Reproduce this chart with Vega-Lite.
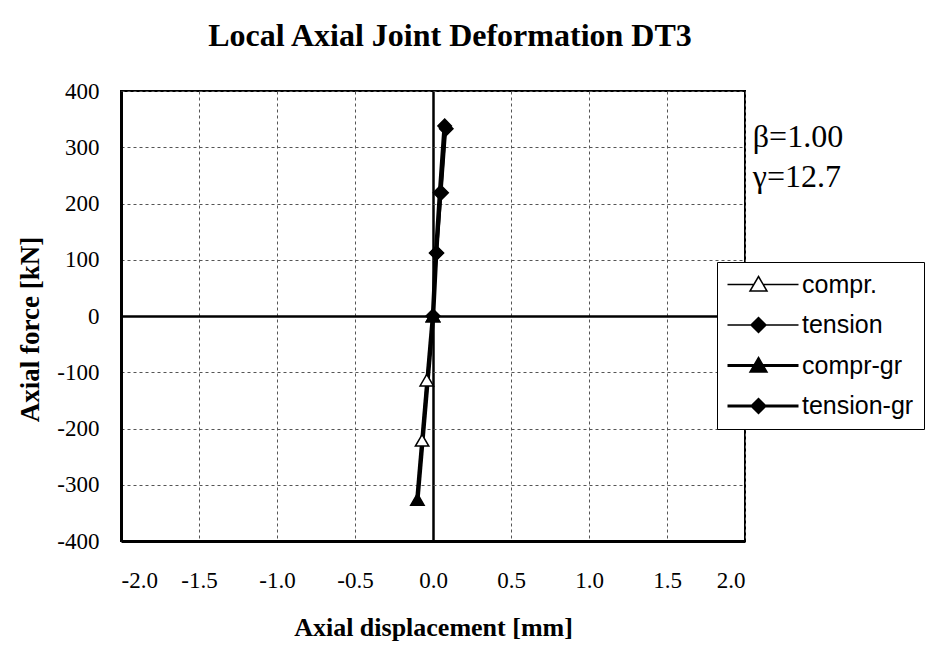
{
  "$schema": "https://vega.github.io/schema/vega-lite/v6.json",
  "width": 624,
  "height": 450,
  "autosize": "none",
  "padding": {"left": 121, "top": 91, "right": 180, "bottom": 107},
  "background": "white",
  "title": {
    "text": "Local Axial Joint Deformation DT3",
    "font": "Liberation Serif",
    "fontSize": 32,
    "fontWeight": "bold",
    "color": "black",
    "anchor": "middle",
    "dx": 17,
    "offset": 27
  },
  "config": {
    "view": {"stroke": "black", "strokeWidth": 2},
    "axis": {
      "labelFont": "Liberation Serif",
      "labelFontSize": 23,
      "labelColor": "black",
      "titleFont": "Liberation Serif",
      "titleFontWeight": "bold",
      "titleColor": "black",
      "ticks": false,
      "domainColor": "black",
      "domainWidth": 3,
      "grid": true
    },
    "legend": {
      "title": null,
      "orient": "none",
      "legendX": 596,
      "legendY": 171,
      "fillColor": "white",
      "strokeColor": "black",
      "padding": 10,
      "cornerRadius": 0,
      "labelFont": "Liberation Sans",
      "labelFontSize": 25,
      "labelColor": "black",
      "labelLimit": 300,
      "symbolSize": 400,
      "symbolOpacity": 1,
      "symbolOffset": 19,
      "labelOffset": 31,
      "rowPadding": 14.5
    }
  },
  "data": {
    "values": [
      {"series": "compr.", "disp": 0.0, "force": 0},
      {"series": "compr.", "disp": -0.04, "force": -114},
      {"series": "compr.", "disp": -0.07, "force": -221},
      {"series": "compr-gr", "disp": 0.0, "force": 0},
      {"series": "compr-gr", "disp": -0.1, "force": -326},
      {"series": "tension", "disp": 0.0, "force": 0},
      {"series": "tension", "disp": 0.025, "force": 112},
      {"series": "tension", "disp": 0.055, "force": 219},
      {"series": "tension", "disp": 0.085, "force": 333},
      {"series": "tension-gr", "disp": 0.0, "force": 0},
      {"series": "tension-gr", "disp": 0.02, "force": 112},
      {"series": "tension-gr", "disp": 0.045, "force": 219},
      {"series": "tension-gr", "disp": 0.075, "force": 338}
    ]
  },
  "layer": [
    {
      "mark": {"type": "line", "color": "black"},
      "encoding": {
        "x": {
          "field": "disp", "type": "quantitative",
          "scale": {"domain": [-2, 2], "nice": false, "zero": false},
          "axis": {
            "values": [-2, -1.5, -1, -0.5, 0, 0.5, 1, 1.5, 2],
            "labelExpr": "replace(format(datum.value, '.1f'), '\u2212', '-')",
            "labelPadding": 28,
            "title": "Axial displacement [mm]",
            "titleFontSize": 26,
            "titlePadding": 22,
            "gridColor": {"condition": {"test": "datum.value === 0", "value": "black"}, "value": "#555555"},
            "gridWidth": {"condition": {"test": "datum.value === 0", "value": 2.5}, "value": 1},
            "gridDash": {"condition": {"test": "datum.value === 0", "value": []}, "value": [3, 3]}
          }
        },
        "y": {
          "field": "force", "type": "quantitative",
          "scale": {"domain": [-400, 400], "nice": false, "zero": false},
          "axis": {
            "values": [-400, -300, -200, -100, 0, 100, 200, 300, 400],
            "labelExpr": "replace(format(datum.value, 'd'), '\u2212', '-')",
            "labelPadding": 22,
            "title": "Axial force [kN]",
            "titleFontSize": 27,
            "titlePadding": 12,
            "titleY": 238,
            "gridColor": {"condition": {"test": "datum.value === 0", "value": "black"}, "value": "#555555"},
            "gridWidth": {"condition": {"test": "datum.value === 0", "value": 2.5}, "value": 1},
            "gridDash": {"condition": {"test": "datum.value === 0", "value": []}, "value": [3, 3]}
          }
        },
        "detail": {"field": "series"},
        "order": {"field": "force", "type": "quantitative"},
        "strokeWidth": {
          "condition": {"test": "indexof(datum.series, '-gr') >= 0", "value": 4.5},
          "value": 2
        }
      }
    },
    {
      "mark": {"type": "point", "filled": true, "stroke": "black", "strokeWidth": 1.5, "size": 180, "opacity": 1},
      "encoding": {
        "x": {"field": "disp", "type": "quantitative"},
        "y": {"field": "force", "type": "quantitative"},
        "fill": {
          "condition": {"test": "datum.series === 'compr.'", "value": "white"},
          "value": "black"
        },
        "shape": {
          "condition": {"test": "indexof(datum.series, 'compr') >= 0", "value": "triangle-up"},
          "value": "diamond"
        }
      }
    },
    {
      "mark": {"type": "point", "filled": true, "stroke": "black", "size": 400, "opacity": 0},
      "encoding": {
        "x": {"field": "disp", "type": "quantitative"},
        "y": {"field": "force", "type": "quantitative"},
        "fill": {
          "field": "series", "type": "nominal",
          "scale": {"domain": ["compr.", "tension", "compr-gr", "tension-gr"], "range": ["white", "black", "black", "black"]},
          "legend": {"title": null}
        },
        "shape": {
          "field": "series", "type": "nominal",
          "scale": {
            "domain": ["compr.", "tension", "compr-gr", "tension-gr"],
            "range": [
              "M-3.1,0H-0.47M0.47,0H4M0,-0.8L0.85,0.65H-0.85Z",
              "M-3.1,0H-0.75M0.75,0H4M0,-0.75L0.75,0L0,0.75L-0.75,0Z",
              "M-3.1,-0.08H4M-3.1,0.08H4M0,-0.8L0.85,0.65H-0.85Z",
              "M-3.1,-0.08H4M-3.1,0.08H4M0,-0.75L0.75,0L0,0.75L-0.75,0Z"
            ]
          },
          "legend": {"title": null}
        }
      }
    },
    {
      "data": {"values": [{"label": "β=1.00", "disp": 2.05, "force": 300}, {"label": "γ=12.7", "disp": 2.05, "force": 229}]},
      "mark": {"type": "text", "font": "Liberation Serif", "fontSize": 32, "align": "left", "baseline": "alphabetic", "color": "black"},
      "encoding": {
        "x": {"field": "disp", "type": "quantitative"},
        "y": {"field": "force", "type": "quantitative"},
        "text": {"field": "label"}
      }
    }
  ]
}
